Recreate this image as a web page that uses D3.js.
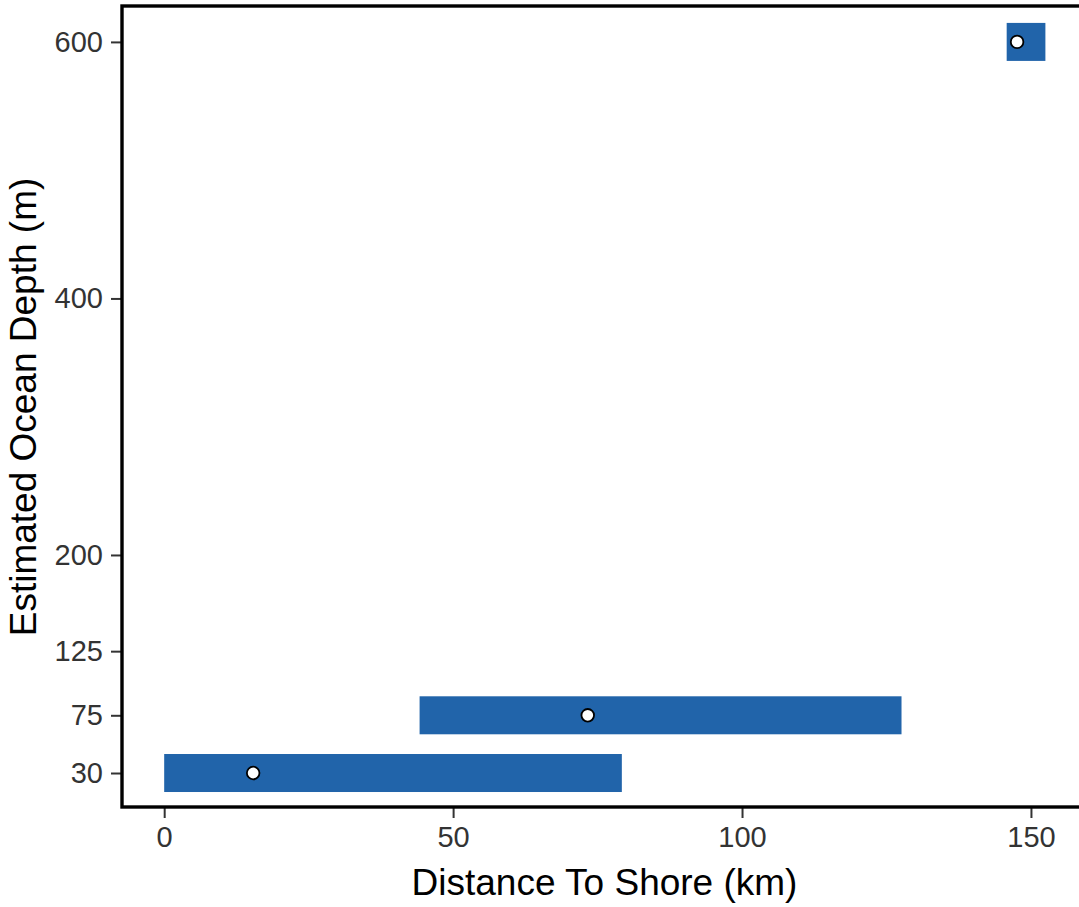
<!DOCTYPE html>
<html>
<head>
<meta charset="utf-8">
<script src="https://cdn.jsdelivr.net/npm/d3@7"></script>
<style>
  body { margin: 0; background: #fff; }
  svg { display: block; font-family: Arial, "Liberation Sans", sans-serif; }
</style>
</head>
<body>
<svg width="1079" height="907"></svg>
<script>
// depth rows, ranges of distance to shore and the point estimate
const depths = [30, 75, 600];
const distMin = [0, 44.2, 145.8];
const distMax = [79.2, 127.6, 152.5];
const distMid = [15.4, 73.3, 147.6];

const xTicks = [0, 50, 100, 150];
const yTicks = [30, 75, 125, 200, 400, 600];

var panelL = 122, panelR = 1087, panelT = 6, panelB = 807;
var barH = 38;

var svg = d3.select('svg');

var x = d3.scaleLinear()
    .domain([-7.3, 159.7])
    .range([panelL, panelR]);

var y = d3.scaleLinear()
    .domain([3.5, 628])
    .range([panelB, panelT]);

var rows = depths.map((d, i) => ({ depth: d, lo: distMin[i], hi: distMax[i], mid: distMid[i] }));

// bars
svg.append('g').selectAll('rect')
    .data(rows).enter().append('rect')
    .attr('x', d => x(d.lo))
    .attr('width', d => x(d.hi) - x(d.lo))
    .attr('y', d => y(d.depth) - barH/2)
    .attr('height', barH)
    .attr('fill', '#2164aa');

// points
svg.append('g').selectAll('circle')
    .data(rows).enter().append('circle')
    .attr('cx', d => x(d.mid))
    .attr('cy', d => y(d.depth))
    .attr('r', 6.3)
    .attr('fill', '#fff')
    .attr('stroke', '#000')
    .attr('stroke-width', 1.8);

// axes
var xAxis = svg.append('g')
    .attr('transform', `translate(0,${panelB})`)
    .call(d3.axisBottom(x).tickValues(xTicks).tickSize(11).tickPadding(8));

var yAxis = svg.append('g')
    .attr('transform', `translate(${panelL},0)`)
    .call(d3.axisLeft(y).tickValues(yTicks).tickSize(11).tickPadding(8));

[xAxis, yAxis].forEach(a => {
    a.select('.domain').remove();
    a.selectAll('line').attr('stroke', '#333').attr('stroke-width', 2);
    a.selectAll('text')
        .attr('fill', '#333')
        .style('font-size', '29px');
});

// panel border
svg.append('rect')
    .attr('x', panelL)
    .attr('y', panelT)
    .attr('width', panelR - panelL)
    .attr('height', panelB - panelT)
    .attr('fill', 'none')
    .attr('stroke', '#000')
    .attr('stroke-width', 3.4);

// titles
svg.append('text')
    .attr('x', (panelL + panelR) / 2)
    .attr('y', 895)
    .attr('text-anchor', 'middle')
    .style('font-size', '37px')
    .text('Distance To Shore (km)');

svg.append('text')
    .attr('transform', `translate(36,407) rotate(-90)`)
    .attr('text-anchor', 'middle')
    .style('font-size', '37px')
    .text('Estimated Ocean Depth (m)');
</script>
</body>
</html>
